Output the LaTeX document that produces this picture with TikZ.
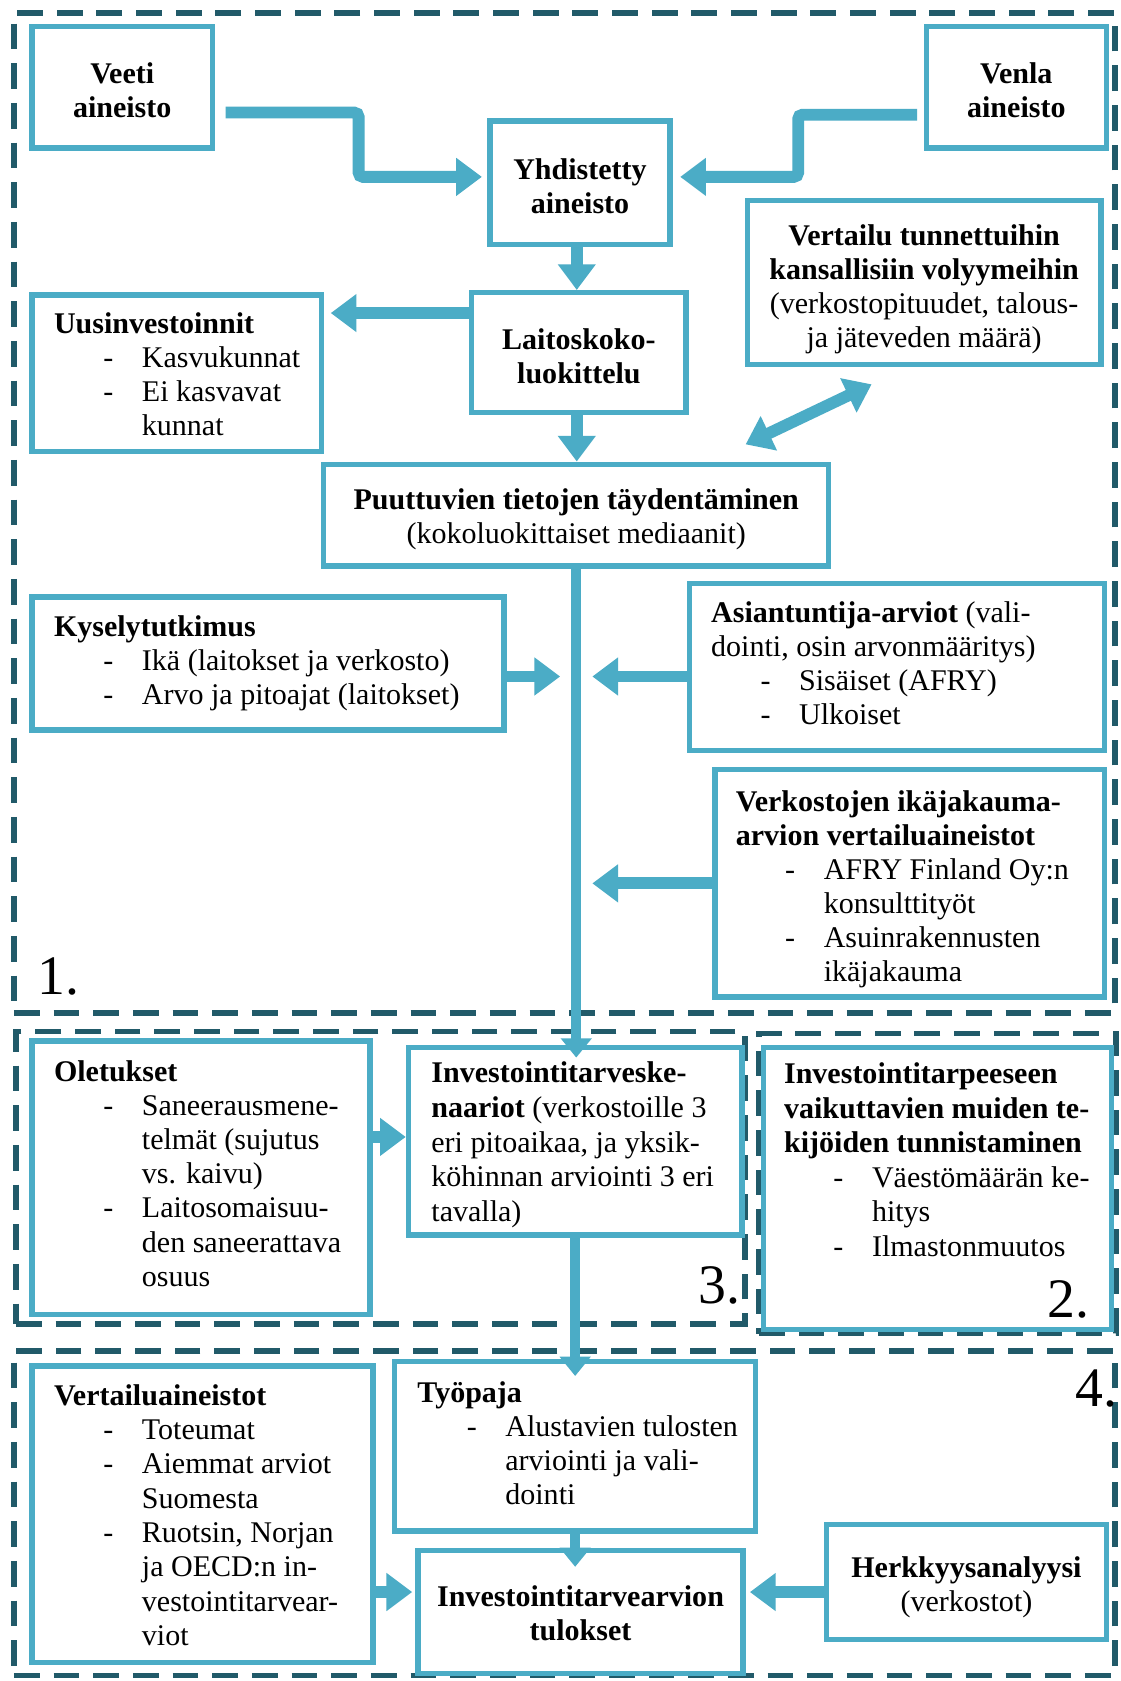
\documentclass[tikz,border=0pt]{standalone}
\usepackage{fontspec}
\setmainfont{Liberation Serif}
\usetikzlibrary{arrows.meta,fit,calc}
\definecolor{boxblue}{HTML}{4BACC6}
\definecolor{dashteal}{HTML}{215A69}
\newcommand{\bul}[1]{\hspace*{23pt}\makebox[18pt][l]{-}#1}
\newcommand{\cnt}[1]{\hspace*{41pt}#1}
\begin{document}
\begin{tikzpicture}[x=0.5pt,y=-0.5pt,
  box/.style={draw=boxblue, line width=2.5pt, inner sep=0pt},
  txt/.style={font=\fontsize{14pt}{15.9pt}\selectfont, align=left, inner sep=0pt, anchor=north west},
  ctxt/.style={font=\fontsize{14pt}{15.9pt}\selectfont, align=center, inner sep=0pt},
  grp/.style={draw=dashteal, line width=2.5pt, dash pattern=on 12pt off 6.5pt, inner sep=0pt},
  num/.style={font=\fontsize{26pt}{28pt}\selectfont, anchor=base west, inner sep=0pt},
  fat/.style={draw=boxblue, line width=5.5pt, -{Triangle[length=12pt,width=17pt]}},
  thin/.style={draw=boxblue, line width=4.5pt, -{Triangle[length=9pt,width=14pt]}},
]
\fill[white] (0,0) rectangle (1045,1568);

% group frames
\node[grp, fit={(13,12) (1040,945)}] (g1) {};
\node[grp, fit={(15,962) (695,1235)}] (g3) {};
\node[grp, fit={(708,964) (1041,1244)}] (g2) {};
\node[grp, fit={(13,1260) (1040,1563)}] (g4) {};

% boxes
\node[box, fit={(30,25) (198,138)}] (veeti) {};
\node[box, fit={(864,25) (1032,138)}] (venla) {};
\node[box, fit={(457,113) (625,228)}] (yhd) {};
\node[box, fit={(697,187) (1027,340)}] (vert) {};
\node[box, fit={(30,275) (300,421)}] (uusi) {};
\node[box, fit={(440,273) (640,385)}] (lait) {};
\node[box, fit={(302,433) (773,528)}] (puut) {};
\node[box, fit={(30,557) (470,681)}] (kys) {};
\node[box, fit={(643,544) (1030,700)}] (asi) {};
\node[box, fit={(667,718) (1030,930)}] (verk) {};
\node[box, fit={(30,971) (345,1226)}] (olet) {};
\node[box, fit={(381,977) (692,1152)}] (inv) {};
\node[box, fit={(712,977) (1037,1240)}] (tarp) {};
\node[box, fit={(30,1274) (348,1551)}] (vaine) {};
\node[box, fit={(368,1270) (705,1428)}] (tyo) {};
\node[box, fit={(390,1446) (693,1561)}] (tul) {};
\node[box, fit={(771,1422) (1032,1529)}] (herk) {};

% centred texts
\node[ctxt] (veeti-t) at ($(veeti.center)+(0,3)$) {\textbf{Veeti}\\\textbf{aineisto}};
\node[ctxt] (venla-t) at ($(venla.center)+(0,3)$) {\textbf{Venla}\\\textbf{aineisto}};
\node[ctxt] (yhd-t) at ($(yhd.center)+(0,3)$) {\textbf{Yhdistetty}\\\textbf{aineisto}};
\node[ctxt] (vert-t) at ($(vert.center)+(0,6)$) {\textbf{Vertailu tunnettuihin}\\\textbf{kansallisiin volyymeihin}\\(verkostopituudet, talous-\\ja jäteveden määrä)};
\node[ctxt] (lait-t) at ($(lait.center)+(0,3)$) {\textbf{Laitoskoko-}\\\textbf{luokittelu}};
\node[ctxt] (puut-t) at ($(puut.center)+(0,4)$) {\textbf{Puuttuvien tietojen täydentäminen}\\(kokoluokittaiset mediaanit)};
\node[ctxt] (tul-t) at ($(tul.center)+(0,1)$) {\textbf{Investointitarvearvion}\\\textbf{tulokset}};
\node[ctxt] (herk-t) at ($(herk.center)+(0,5)$) {\textbf{Herkkyysanalyysi}\\(verkostot)};

% left-aligned texts
\node[txt] (uusi-t) at (50,291) {\textbf{Uusinvestoinnit}\\\bul{Kasvukunnat}\\\bul{Ei kasvavat}\\\cnt{kunnat}};
\node[txt] (kys-t) at (50,574) {\textbf{Kyselytutkimus}\\\bul{Ikä (laitokset ja verkosto)}\\\bul{Arvo ja pitoajat (laitokset)}};
\node[txt] (asi-t) at (663,561) {\textbf{Asiantuntija-arviot} (vali-\\dointi, osin arvonmääritys)\\\bul{Sisäiset (AFRY)}\\\bul{Ulkoiset}};
\node[txt] (verk-t) at (686,737) {\textbf{Verkostojen ikäjakauma-}\\\textbf{arvion vertailuaineistot}\\\bul{AFRY Finland Oy:n}\\\cnt{konsulttityöt}\\\bul{Asuinrakennusten}\\\cnt{ikäjakauma}};
\node[txt] (olet-t) at (50,989) {\textbf{Oletukset}\\\bul{Saneerausmene-}\\\cnt{telmät (sujutus}\\\cnt{vs. kaivu)}\\\bul{Laitosomaisuu-}\\\cnt{den saneerattava}\\\cnt{osuus}};
\node[txt, font=\fontsize{14pt}{16.2pt}\selectfont] (inv-t) at (402,990) {\textbf{Investointitarveske-}\\\textbf{naariot} (verkostoille 3\\eri pitoaikaa, ja yksik-\\köhinnan arviointi 3 eri\\tavalla)};
\node[txt, font=\fontsize{14pt}{16.1pt}\selectfont] (tarp-t) at (731,991) {\textbf{Investointitarpeeseen}\\\textbf{vaikuttavien muiden te-}\\\textbf{kijöiden tunnistaminen}\\\bul{Väestömäärän ke-}\\\cnt{hitys}\\\bul{Ilmastonmuutos}};
\node[txt, font=\fontsize{14pt}{16pt}\selectfont] (vaine-t) at (50,1291) {\textbf{Vertailuaineistot}\\\bul{Toteumat}\\\bul{Aiemmat arviot}\\\cnt{Suomesta}\\\bul{Ruotsin, Norjan}\\\cnt{ja OECD:n in-}\\\cnt{vestointitarvear-}\\\cnt{viot}};
\node[txt] (tyo-t) at (389,1288) {\textbf{Työpaja}\\\bul{Alustavien tulosten}\\\cnt{arviointi ja vali-}\\\cnt{dointi}};

% section numbers
\node[num] (n1) at (35,928) {1.};
\node[num] (n3) at (651,1216) {3.};
\node[num] (n2) at (977,1229) {2.};
\node[num] (n4) at (1003,1312) {4.};

% arrows
\draw[fat, rounded corners=2pt] ($(veeti.east)+(10,23.5)$) -| ($(veeti.east)!0.5!(yhd.west)+(7,0)$) |- ($(yhd.west)+(-5,-5.5)$);
\draw[fat, rounded corners=2pt] ($(venla.west)+(-6,25.5)$) -| ($(venla.west)!0.5!(yhd.east)$) |- ($(yhd.east)+(7,-5.5)$);
\draw[fat] ($(yhd.south)+(-3,0)$) -- ($(lait.north)+(-2,0)$);
\draw[fat] ($(lait.west)+(0,-37)$) -- ($(uusi.east |- lait.west)+(6,-37)$);
\draw[fat] ($(lait.south)+(-2,0)$) -- ($(lait.south |- puut.north)+(-2,0)$);
\draw[draw=boxblue, line width=5.5pt, {Triangle[length=12pt,width=17pt]}-{Triangle[length=12pt,width=17pt]}] ($(puut.north east)+(-80,-16)$) -- ($(vert.south)+(-49,16)$);
\draw[thin] (puut.south) -- ($(puut.south |- inv.north)+(0,12)$);
\draw[fat] ($(kys.east)+(0,12)$) -- ($(puut.south |- kys.east)+(-15,12)$);
\draw[fat] ($(asi.west)+(0,9)$) -- ($(puut.south |- asi.west)+(15,9)$);
\draw[fat] (verk.west) -- ($(puut.south |- verk.west)+(15,0)$);
\draw[fat] ($(olet.east)+(0,-38)$) -- ($(inv.west |- olet.east)+(0,-38)$);
\draw[thin] (inv.south) -- ($(inv.south |- tyo.north)+(0,16)$);
\draw[thin] (tyo.south) -- ($(tyo.south |- tul.north)+(0,18)$);
\draw[fat] ($(vaine.east)+(0,72.5)$) -- ($(tul.west)+(-3,-18.5)$);
\draw[fat] ($(herk.west)+(0,9.5)$) -- ($(tul.east)+(4,-18.5)$);
\end{tikzpicture}
\end{document}
